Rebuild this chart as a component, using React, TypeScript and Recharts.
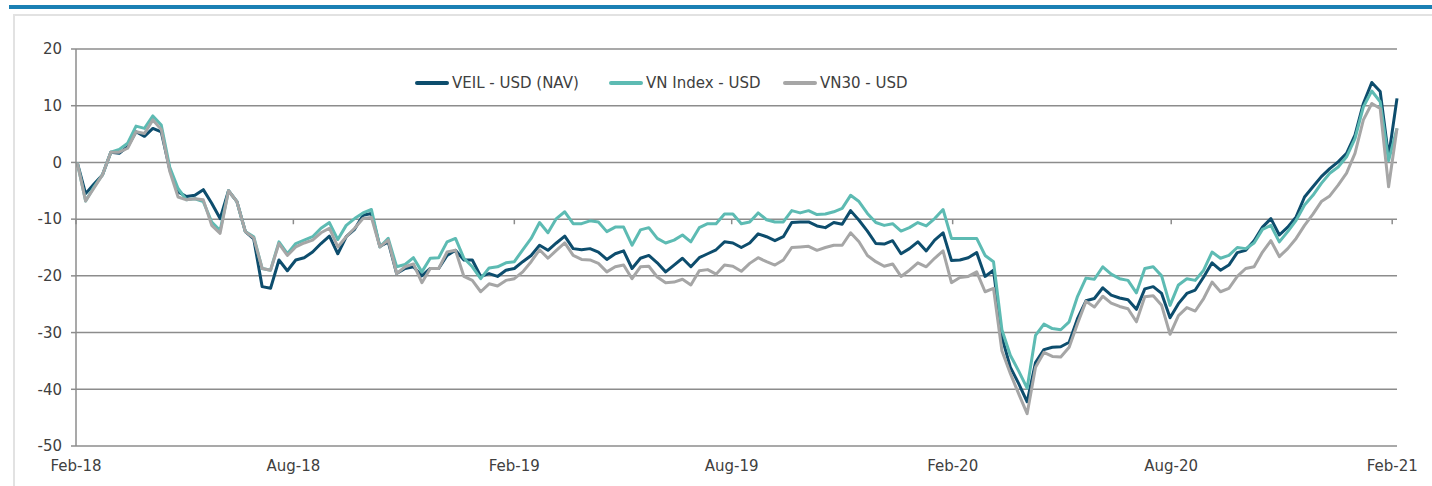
import {
  CartesianGrid,
  Line,
  LineChart,
  ReferenceLine,
  XAxis,
  YAxis,
} from "recharts";

// day 0 = 1 Feb 2018; weekly observations start Fri 2 Feb 2018
const firstDay = 1;

const veil = [
  0, -5.5, -3.8, -2.2, 1.8, 1.6, 2.8, 5.4, 4.6, 6.0,
  5.4, -1.2, -5.2, -6.0, -5.8, -4.8, -7.2, -9.9, -5.0, -6.9,
  -12.2, -13.5, -21.9, -22.2, -17.2, -19.1, -17.2, -16.8, -15.8, -14.3,
  -13.0, -16.1, -13.1, -11.8, -9.3, -9.0, -14.8, -14.0, -19.6, -18.7,
  -18.4, -20.0, -18.7, -18.7, -16.4, -15.5, -17.2, -17.2, -20.1, -19.6,
  -20.1, -19.0, -18.7, -17.5, -16.4, -14.6, -15.5, -14.2, -13.0, -15.2,
  -15.4, -15.2, -15.8, -17.1, -16.1, -15.6, -18.7, -16.9, -16.4, -17.7,
  -19.3, -18.1, -16.9, -18.4, -16.8, -16.1, -15.4, -14.0, -14.2, -15.0,
  -14.2, -12.6, -13.1, -13.8, -13.1, -10.6, -10.5, -10.5, -11.2, -11.5,
  -10.6, -10.9, -8.5, -10.2, -12.1, -14.3, -14.4, -13.8, -16.1, -15.2,
  -14.0, -15.6, -13.7, -12.4, -17.3, -17.2, -16.8, -15.9, -20.1, -19.0,
  -30.8, -36.1, -39.0, -42.2, -35.3, -33.0, -32.6, -32.5, -31.7, -27.5,
  -24.4, -24.0, -22.1, -23.4, -23.9, -24.2, -25.9, -22.3, -21.9, -23.1,
  -27.4, -24.9, -23.1, -22.5, -20.2, -17.7, -19.0, -18.1, -15.9, -15.5,
  -13.8, -11.4, -9.9, -12.8, -11.4, -9.6, -6.1, -4.3, -2.5, -1.1,
  0.1, 1.6, 4.8, 10.4, 14.1, 12.5, 1.0, 11.3,
];

const vnIndex = [
  0, -6.8, -4.3, -2.2, 1.8, 2.3, 3.4, 6.4, 6.0, 8.2,
  6.6, -0.8, -4.6, -6.6, -6.4, -6.9, -10.5, -12.0, -5.0, -6.9,
  -12.2, -13.1, -18.7, -19.0, -14.0, -16.1, -14.3, -13.7, -13.1, -11.6,
  -10.6, -13.6, -11.1, -9.9, -8.9, -8.3, -14.9, -13.4, -18.4, -18.0,
  -16.8, -19.3, -16.9, -16.8, -14.0, -13.4, -16.9, -18.4, -20.5, -18.6,
  -18.4, -17.7, -17.5, -15.4, -13.4, -10.6, -12.4, -9.9, -8.7, -10.8,
  -10.8, -10.3, -10.5, -12.2, -11.4, -11.4, -14.6, -11.9, -11.5, -13.4,
  -14.2, -13.7, -12.8, -14.0, -11.5, -10.8, -10.8, -9.1, -9.1, -10.8,
  -10.5, -8.9, -10.1, -10.5, -10.5, -8.5, -8.9, -8.5, -9.2, -9.1,
  -8.7, -8.1, -5.8, -6.9, -9.0, -10.6, -11.1, -10.8, -12.1, -11.5,
  -10.6, -11.2, -9.9, -8.3, -13.4, -13.4, -13.4, -13.4, -16.4, -17.5,
  -29.5, -34.0, -36.8, -39.8, -30.5, -28.5, -29.3, -29.5, -28.1, -23.6,
  -20.4, -20.6, -18.4, -19.7, -20.5, -20.8, -23.0, -18.7, -18.4, -20.0,
  -25.2, -21.6, -20.5, -20.8, -19.0, -15.8, -16.9, -16.4, -15.0, -15.2,
  -14.2, -11.8, -11.1, -14.0, -12.2, -10.2, -7.5, -5.8, -3.7, -1.9,
  -0.8, 1.0, 4.2, 9.8, 12.6, 10.7, 0.3, 6.0,
];

const vn30 = [
  0, -6.8, -4.5, -2.2, 1.8, 1.8, 2.5, 5.4, 5.1, 7.5,
  5.8, -1.5, -6.1, -6.6, -6.4, -6.6, -11.1, -12.5, -5.0, -6.9,
  -12.2, -13.3, -18.7, -19.0, -14.3, -16.4, -14.9, -14.2, -13.7, -12.4,
  -11.6, -14.9, -13.1, -11.6, -9.9, -9.7, -14.9, -13.7, -19.6, -18.4,
  -17.9, -21.2, -18.7, -18.7, -15.8, -15.5, -20.1, -20.8, -22.8, -21.4,
  -21.8, -20.8, -20.5, -19.3, -17.5, -15.4, -16.9, -15.5, -14.2, -16.4,
  -17.1, -17.2, -17.8, -19.3, -18.4, -18.1, -20.5, -18.4, -18.3, -20.2,
  -21.2, -21.1, -20.6, -21.6, -19.1, -18.9, -19.7, -18.1, -18.3, -19.2,
  -17.8, -16.8, -17.5, -18.1, -17.2, -15.0, -14.9, -14.8, -15.5, -15.0,
  -14.6, -14.6, -12.4, -14.0, -16.4, -17.5, -18.3, -17.9, -20.1, -19.0,
  -17.7, -18.4, -16.9, -15.6, -21.2, -20.3, -20.1, -19.3, -22.8, -22.2,
  -33.2, -37.2, -40.8, -44.3, -36.1, -33.5, -34.2, -34.3, -32.6, -28.4,
  -24.5, -25.5, -23.6, -24.8, -25.4, -25.8, -28.1, -23.7, -23.5, -25.2,
  -30.3, -27.0, -25.6, -26.2, -24.0, -21.1, -22.8, -22.2, -20.1, -18.7,
  -18.4, -15.8, -13.8, -16.6, -15.2, -13.4, -11.1, -9.1, -6.9, -5.9,
  -4.0, -1.9, 1.6, 7.5, 10.4, 9.5, -4.3, 6.0,
];

const tickDays = [0, 181, 365, 546, 730, 912, 1096];
const tickLabels = ["Feb-18", "Aug-18", "Feb-19", "Aug-19", "Feb-20", "Aug-20", "Feb-21"];
const yTicks = [-50, -40, -30, -20, -10, 0, 10, 20];

const series = [
  { key: "veil", name: "VEIL - USD (NAV)", color: "#0d4d6d", left: 415 },
  { key: "vnIndex", name: "VN Index - USD", color: "#5dbbb3", left: 609 },
  { key: "vn30", name: "VN30 - USD", color: "#a6a6a6", left: 783 },
];

const data = veil.map((v, i) => ({
  day: firstDay + 7 * i,
  veil: v,
  vnIndex: vnIndex[i],
  vn30: vn30[i],
}));

const FONT = "'DejaVu Sans', sans-serif";
const TEXT = "#404040";
const GRID = "#8c8c8c";

function LegendRow() {
  return (
    <div style={{ position: "absolute", left: 0, top: 73, height: 20, width: 1432 }}>
      {series.map((s) => (
        <div
          key={s.key}
          style={{
            position: "absolute",
            left: s.left,
            top: 0,
            height: 20,
            display: "flex",
            alignItems: "center",
            fontFamily: FONT,
            fontSize: 15,
            color: TEXT,
            whiteSpace: "nowrap",
          }}
        >
          <span style={{ width: 34, height: 4, background: s.color, borderRadius: 2, marginRight: 3 }} />
          {s.name}
        </div>
      ))}
    </div>
  );
}

export default function App() {
  return (
    <div style={{ position: "absolute", left: 0, top: 0, width: 1432, height: 486, background: "#fff", overflow: "hidden" }}>
      <div style={{ position: "absolute", left: 9, top: 5, width: 1423, height: 4, background: "#1a80b4" }} />
      <div style={{ position: "absolute", left: 13, top: 14, width: 1430, height: 500, border: "2px solid #e2e2e2", boxSizing: "border-box" }} />
      <div style={{ position: "absolute", left: 0, top: 0 }}>
        <LineChart
          width={1432}
          height={486}
          data={data}
          margin={{ top: 49, right: 35, bottom: 10, left: 16 }}
        >
          <CartesianGrid vertical={false} stroke={GRID} strokeWidth={1.5} />
          <XAxis
            dataKey="day"
            type="number"
            domain={[0, 1100]}
            ticks={tickDays}
            tickFormatter={(d) => tickLabels[tickDays.indexOf(d)]}
            axisLine={false}
            tickLine={false}
            tickSize={6}
            tickMargin={8}
            height={30}
            interval={0}
            tick={{ fontFamily: FONT, fontSize: 15, fill: TEXT }}
          />
          <YAxis
            domain={[-50, 20]}
            ticks={yTicks}
            interval={0}
            width={60}
            axisLine={{ stroke: GRID, strokeWidth: 1.5 }}
            tickLine={{ stroke: GRID, strokeWidth: 1.5 }}
            tickSize={5}
            tickMargin={9}
            tick={{ fontFamily: FONT, fontSize: 15, fill: TEXT }}
          />
          {tickDays.map((d) => (
            <ReferenceLine
              key={d}
              segment={[{ x: d, y: -10 }, { x: d, y: -10.9 }]}
              stroke={GRID}
              strokeWidth={1.5}
            />
          ))}
          {series.map((s) => (
            <Line
              key={s.key}
              type="linear"
              dataKey={s.key}
              name={s.name}
              stroke={s.color}
              strokeWidth={3}
              strokeLinejoin="round"
              dot={false}
              activeDot={false}
              isAnimationActive={false}
            />
          ))}
        </LineChart>
      </div>
      <LegendRow />
    </div>
  );
}
